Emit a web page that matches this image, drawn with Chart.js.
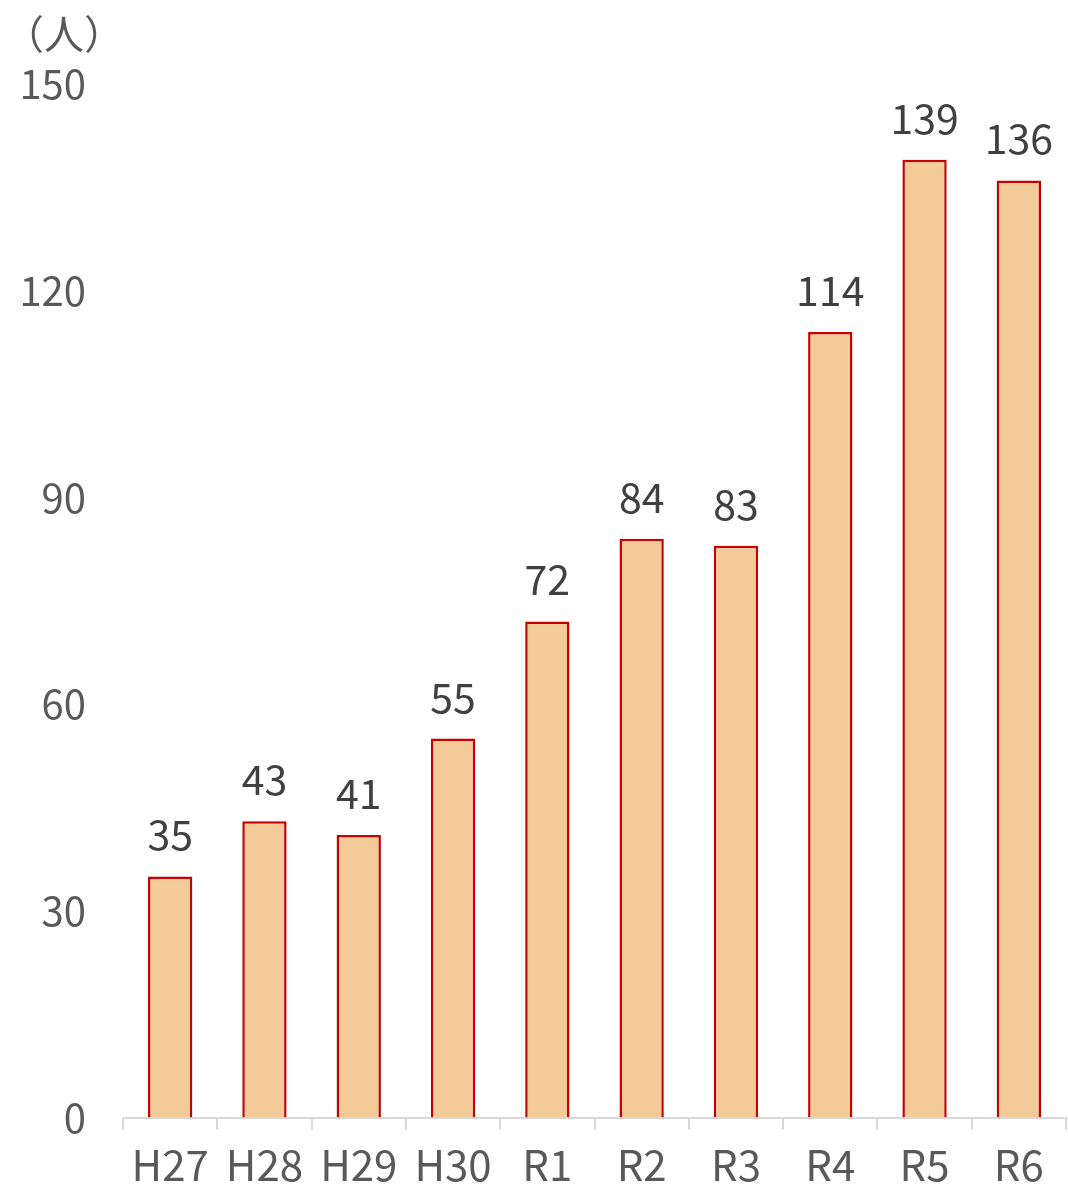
<!DOCTYPE html>
<html>
<head>
<meta charset="utf-8">
<script src="https://cdn.jsdelivr.net/npm/chart.js@4.4.1/dist/chart.umd.min.js"></script>
<style>
  html, body { margin: 0; padding: 0; background: #fff; }
  #wrap { position: relative; width: 1068px; height: 1200px; }
</style>
</head>
<body>
<div id="wrap"><canvas id="peopleChart"></canvas></div>
<script>
const categories = ['H27', 'H28', 'H29', 'H30', 'R1', 'R2', 'R3', 'R4', 'R5', 'R6'];
const counts = [35, 43, 41, 55, 72, 84, 83, 114, 139, 136];
const yTicks = [0, 30, 60, 90, 120, 150];
const unitLabel = '（人）';

const FONT = '"Noto Sans CJK JP", "Noto Sans", sans-serif';

// draws value labels above bars and the unit label at top-left
const labelPlugin = {
    id: 'valueLabels',
    afterDatasetsDraw(chart) {
        const c = chart.ctx;
        c.save();
        c.font = '41px ' + FONT;
        c.fillStyle = '#404040';
        c.textAlign = 'center';
        c.textBaseline = 'alphabetic';
        chart.getDatasetMeta(0).data.forEach((bar, i) => {
            c.fillText(String(counts[i]), bar.x, bar.y - 26);
        });
        c.font = '40px ' + FONT;
        c.fillStyle = '#595959';
        c.textAlign = 'left';
        c.textBaseline = 'middle';
        c.fillText(unitLabel, 4, 34);
        c.restore();
    }
};

const chart = new Chart(document.getElementById('peopleChart'), {
    type: 'bar',
    data: {
        labels: categories,
        datasets: [{
            data: counts,
            backgroundColor: '#F2CB98',
            borderColor: '#C80000',
            borderWidth: 2.5,
            barPercentage: 0.47,
            categoryPercentage: 1
        }]
    },
    options: {
        responsive: true,
        maintainAspectRatio: false,
        animation: false,
        layout: { padding: { top: 84, right: 2, left: 0, bottom: 0 } },
        plugins: {
            legend: { display: false },
            tooltip: { enabled: false }
        },
        scales: {
            x: {
                grid: {
                    offset: true,
                    drawOnChartArea: false,
                    drawTicks: true,
                    tickLength: 12,
                    color: '#D9D9D9',
                    lineWidth: 2
                },
                border: { display: true, color: '#D9D9D9', width: 2 },
                ticks: {
                    color: '#595959',
                    font: { family: FONT, size: 42 },
                    padding: 10,
                    maxRotation: 0
                }
            },
            y: {
                min: 0,
                max: 150,
                afterBuildTicks: (axis) => { axis.ticks = yTicks.map(v => ({ value: v })); },
                afterFit: (axis) => { axis.width = 123; },
                grid: { display: false },
                border: { display: false },
                ticks: {
                    color: '#595959',
                    font: { family: FONT, size: 40 },
                    padding: 29
                }
            }
        }
    },
    plugins: [labelPlugin]
});
</script>
</body>
</html>
